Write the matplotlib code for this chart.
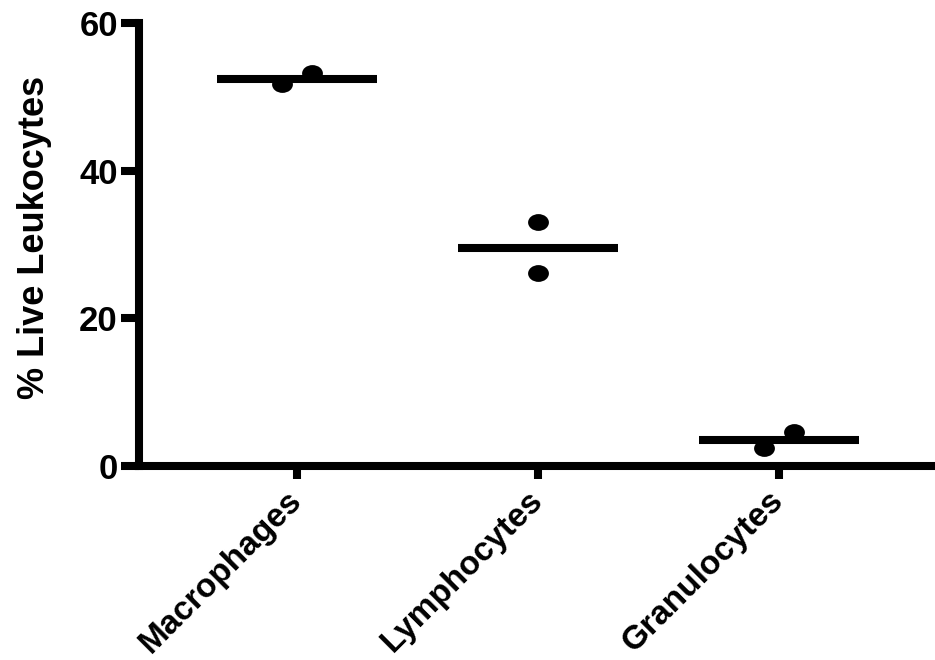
import numpy as np
import matplotlib
matplotlib.use("Agg")
import matplotlib.pyplot as plt
from matplotlib.path import Path
from matplotlib.transforms import Affine2D

# ---- data ----
categories = ["Macrophages", "Lymphocytes", "Granulocytes"]
macrophages = [51.7, 53.2]
lymphocytes = [26.1, 33.0]
granulocytes = [2.4, 4.6]
series = [macrophages, lymphocytes, granulocytes]
yticks = [0, 20, 40, 60]

# ---- style ----
point_offsets = [[-0.062, 0.062], [0.0, 0.0], [-0.062, 0.062]]
mean_halfwidth = 0.332
lw = 5.8
font = ["Liberation Sans", "DejaVu Sans"]

plt.rcParams["font.family"] = font
plt.rcParams["font.weight"] = "bold"

fig = plt.figure(figsize=(9.35, 6.6), dpi=100)
ax = fig.add_axes([0.1483, 0.2939, 1.0 - 0.1483, 0.9652 - 0.2939])

ellipse = Path.unit_circle().transformed(Affine2D().scale(1.24, 1.0))

for i, vals in enumerate(series):
    xs = [i + o for o in point_offsets[i]]
    ax.plot(xs, vals, linestyle="none", marker=ellipse, markersize=15,
            color="black", markeredgewidth=0, zorder=3)
    m = float(np.mean(vals))
    ax.hlines(m, i - mean_halfwidth, i + mean_halfwidth, colors="black",
              linewidth=lw, capstyle="butt", zorder=2)

ax.set_xlim(-0.659, 2.648)
ax.set_ylim(0, 60)
ax.set_yticks(yticks)
ax.set_yticklabels([str(t) for t in yticks])
ax.set_xticks(range(len(categories)))
ax.set_xticklabels(categories, rotation=45, ha="right", va="center",
                   rotation_mode="anchor")

for s in ["top", "right"]:
    ax.spines[s].set_visible(False)
for s in ["left", "bottom"]:
    ax.spines[s].set_linewidth(lw)
    ax.spines[s].set_capstyle("projecting")

ax.tick_params(axis="y", length=13, width=lw, pad=2, labelsize=25)
ax.tick_params(axis="x", length=9.4, width=lw, pad=12, labelsize=24)
for lab in ax.get_yticklabels() + ax.get_xticklabels():
    lab.set_fontweight("bold")

ax.set_ylabel("% Live Leukocytes", fontsize=26, fontweight="bold")
ax.yaxis.set_label_coords(-0.109, 0.517)

fig.savefig("out.png", dpi=100)
